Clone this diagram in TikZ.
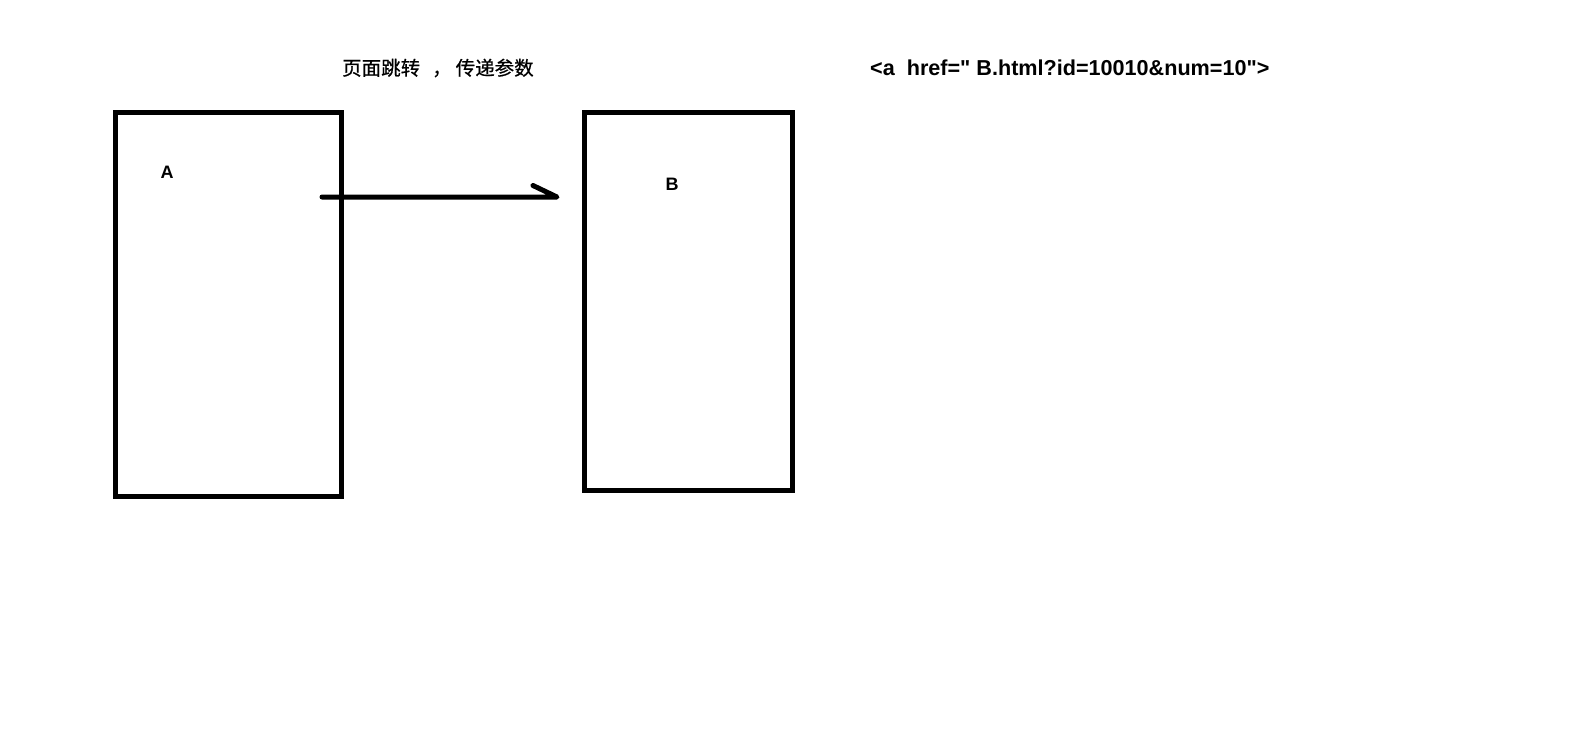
\documentclass[tikz,border=0pt]{standalone}
\usepackage{fontspec}
\setmainfont{Liberation Sans}
\newfontfamily\codefont{Liberation Sans}
\newfontfamily\cjk[FakeBold=0.6]{Noto Sans CJK SC}
\begin{document}
\begin{tikzpicture}[x=1pt,y=-1pt,
  page/.style={draw=black,line width=5pt,inner sep=0pt,fill=none},
  lbl/.style={font=\fontsize{18}{20}\selectfont\bfseries,inner sep=0pt},
  conn/.style={draw=black,line width=5pt,line cap=round,line join=round}]
\useasboundingbox (0,0) rectangle (1594,737);
\node[page,minimum width=226.5pt,minimum height=384pt] (A) at (228.25,304.5) {};
\node[page,minimum width=208.5pt,minimum height=378pt] (B) at (688.25,301.5) {};
\node[lbl] (la) at (167,172) {A};
\node[lbl] (lb) at (672,184) {B};
\node[font=\cjk\fontsize{19.5}{22}\selectfont,inner sep=0pt,anchor=west] (title) at (342,68) {页面跳转\hspace{12pt}，\hspace{4pt}传递参数};
\node[font=\codefont\fontsize{21.6}{24}\selectfont\bfseries,inner sep=0pt,anchor=west] (code) at (870,67.5) {<a\hspace{12pt}href="\hspace{6pt}B.html?id=10010\&num=10">};
\coordinate (s) at (322,197);
\coordinate (e) at (557,197);
\draw[conn] (s) -- (e) -- ++(-24,-11.5);
\end{tikzpicture}
\end{document}
